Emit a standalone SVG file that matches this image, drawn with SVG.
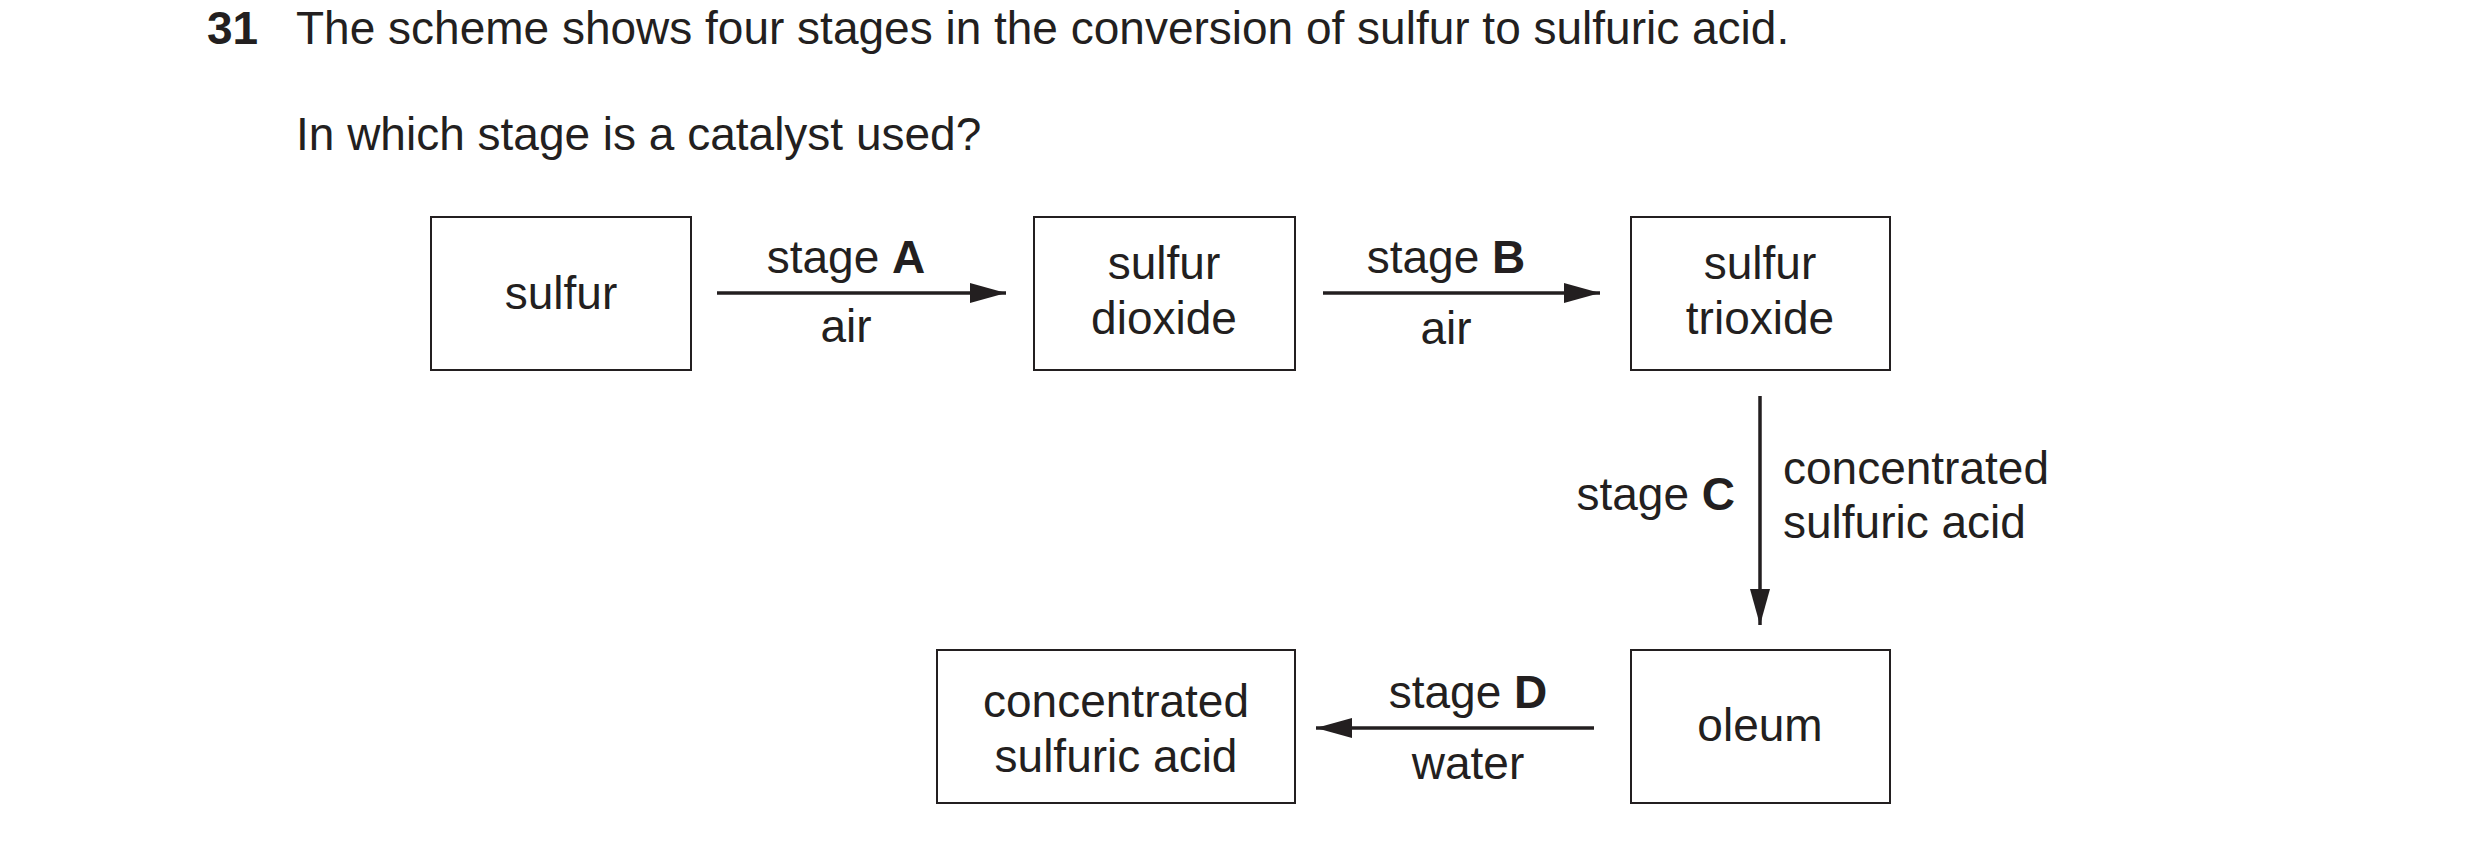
<svg xmlns="http://www.w3.org/2000/svg" width="2480" height="845" viewBox="0 0 2480 845">
<style>
text{font-family:"Liberation Sans",Arial,sans-serif;font-size:46px;fill:#231f20}
.c{text-anchor:middle}
.box{fill:none;stroke:#231f20;stroke-width:2}
.ln{stroke:#231f20;stroke-width:3.5;fill:none}
</style>
<defs>
<marker id="a2" viewBox="0 0 36 20" refX="36" refY="10" markerWidth="36" markerHeight="20" orient="auto" markerUnits="userSpaceOnUse"><path d="M0,0L36,10L0,20z" fill="#231f20"/></marker></defs>
<text x="207" y="44" font-weight="bold">31</text>
<text x="296" y="44">The scheme shows four stages in the conversion of sulfur to sulfuric acid.</text>
<text x="296" y="150">In which stage is a catalyst used?</text>
<g id="sulfur"><rect class="box" x="431" y="217" width="260" height="153"/><text class="c" x="561" y="309">sulfur</text></g>
<g id="dioxide"><rect class="box" x="1034" y="217" width="261" height="153"/><text class="c" x="1164" y="279">sulfur</text><text class="c" x="1164" y="334">dioxide</text></g>
<g id="trioxide"><rect class="box" x="1631" y="217" width="259" height="153"/><text class="c" x="1760" y="279">sulfur</text><text class="c" x="1760" y="334">trioxide</text></g>
<g id="acid"><rect class="box" x="937" y="650" width="358" height="153"/><text class="c" x="1116" y="717">concentrated</text><text class="c" x="1116" y="772">sulfuric acid</text></g>
<g id="oleum"><rect class="box" x="1631" y="650" width="259" height="153"/><text class="c" x="1760" y="741">oleum</text></g>
<g id="connectors">
<line class="ln" x1="717" y1="293" x2="1006" y2="293" marker-end="url(#a2)"/>
<line class="ln" x1="1323" y1="293" x2="1600" y2="293" marker-end="url(#a2)"/>
<line class="ln" x1="1760" y1="396" x2="1760" y2="625" stroke-width="3" marker-end="url(#a2)"/>
<line class="ln" x1="1594" y1="728" x2="1316" y2="728" marker-end="url(#a2)"/>
<text class="c" x="846" y="273">stage <tspan font-weight="bold">A</tspan></text>
<text class="c" x="846" y="342">air</text>
<text class="c" x="1446" y="273">stage <tspan font-weight="bold">B</tspan></text>
<text class="c" x="1446" y="344">air</text>
<text x="1735" y="510" text-anchor="end">stage <tspan font-weight="bold">C</tspan></text>
<text x="1783" y="484">concentrated</text>
<text x="1783" y="538">sulfuric acid</text>
<text class="c" x="1468" y="708">stage <tspan font-weight="bold">D</tspan></text>
<text class="c" x="1468" y="779">water</text>
</g>
</svg>
